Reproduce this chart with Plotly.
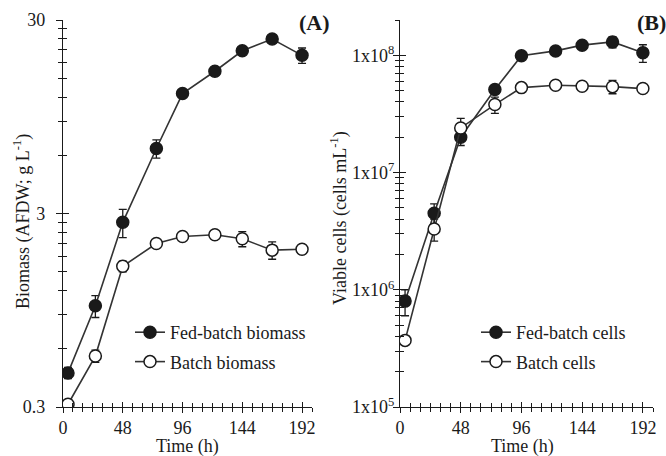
import plotly.graph_objects as go

# Sampling times (h)
time_a = [4, 26, 48, 75, 96, 122, 144, 168, 192]
time_b = [4, 27, 48, 75, 96, 123, 144, 168, 192]

# (A) biomass, AFDW g/L
fed_biomass = [0.45, 1.0, 2.7, 6.5, 12.5, 16.3, 20.8, 23.9, 19.7]
fed_biomass_sd = [0.03, 0.13, 0.45, 0.7, 0.5, 0.8, 0.9, 0.6, 1.8]
batch_biomass = [0.31, 0.55, 1.6, 2.1, 2.28, 2.33, 2.22, 1.94, 1.96]
batch_biomass_sd = [0.01, 0.04, 0.1, 0.05, 0.1, 0.05, 0.2, 0.2, 0.05]

# (B) viable cells, cells/mL
fed_cells = [8.0e5, 4.5e6, 2.0e7, 5.1e7, 9.9e7, 1.09e8, 1.22e8, 1.30e8, 1.05e8]
fed_cells_sd = [2e5, 9e5, 3e6, 4e6, 5e6, 7e6, 7e6, 1.4e7, 1.8e7]
batch_cells = [3.7e5, 3.3e6, 2.4e7, 3.8e7, 5.3e7, 5.55e7, 5.45e7, 5.4e7, 5.2e7]
batch_cells_sd = [3e4, 7e5, 5e6, 6e6, 2e6, 2e6, 4e6, 7e6, 2e6]

x_ticks = [0, 48, 96, 144, 192]
a_ticks = [0.3, 3, 30]
a_ticktext = ["0.3", "3", "30"]
a_minor = [k * 0.3 for k in range(2, 10)] + [k * 3 for k in range(2, 10)]
b_ticks = [1e5, 1e6, 1e7, 1e8]
b_ticktext = ["1x10<sup>5</sup>", "1x10<sup>6</sup>", "1x10<sup>7</sup>", "1x10<sup>8</sup>"]
b_minor = [k * 10 ** n for n in range(5, 8) for k in range(2, 10)] + [2e8]

FONT = "Liberation Serif, Times New Roman, serif"
INK = "#1a1a1a"
LINE = "#333333"

fig = go.Figure()


def add_series(x, y, sd, name, filled, xa, ya, legend):
    fig.add_trace(go.Scatter(
        x=x, y=y, name=name, mode="lines+markers",
        xaxis=xa, yaxis=ya, legend=legend,
        legendgroup=name,
        line=dict(color=LINE, width=1.6),
        marker=dict(size=12, symbol="circle",
                    color=INK if filled else "white",
                    line=dict(color=INK, width=1.5)),
        error_y=dict(type="data", array=sd, visible=True,
                     color=INK, thickness=1.3, width=4),
    ))


# Batch series sit on twin axes whose ticks point inward, so that every
# tick mark crosses the axis line.
add_series(time_a, fed_biomass, fed_biomass_sd, "Fed-batch biomass", True, "x", "y", "legend")
add_series(time_a, batch_biomass, batch_biomass_sd, "Batch biomass", False, "x3", "y3", "legend")
add_series(time_b, fed_cells, fed_cells_sd, "Fed-batch cells", True, "x2", "y2", "legend2")
add_series(time_b, batch_cells, batch_cells_sd, "Batch cells", False, "x4", "y4", "legend2")

W, H = 666, 456
dom_a = [63 / W, 312 / W]
dom_b = [400 / W, 653 / W]
dom_y = [49 / H, 436 / H]

tickfont = dict(family=FONT, size=18, color=INK)


def x_axis(domain, anchor, overlay=None, inside=False):
    ax = dict(
        domain=domain, anchor=anchor, range=[0, 200],
        tickmode="array", tickvals=x_ticks,
        ticks="inside" if inside else "outside", ticklen=5, tickwidth=1.2,
        tickcolor=INK, showline=True, linecolor=INK, linewidth=1.3,
        showgrid=False, zeroline=False,
        showticklabels=not inside, tickfont=tickfont, ticklabelstandoff=-1,
        minor=dict(dtick=8, tick0=0, ticks="inside" if inside else "outside",
                   ticklen=4, tickwidth=1.1, tickcolor=INK, showgrid=False),
    )
    if overlay:
        ax["overlaying"] = overlay
    return ax


def y_axis(domain, anchor, rng, tvals, ttext, minor_vals, standoff,
           overlay=None, inside=False):
    ax = dict(
        domain=domain, anchor=anchor, type="log", range=rng,
        tickmode="array", tickvals=tvals, ticktext=ttext,
        ticks="inside" if inside else "outside", ticklen=6, tickwidth=1.2,
        tickcolor=INK, showline=True, linecolor=INK, linewidth=1.3,
        showgrid=False, zeroline=False,
        showticklabels=not inside, tickfont=tickfont,
        ticklabelstandoff=standoff,
        minor=dict(tickmode="array", tickvals=minor_vals,
                   ticks="inside" if inside else "outside",
                   ticklen=4, tickwidth=1.1, tickcolor=INK, showgrid=False),
    )
    if overlay:
        ax["overlaying"] = overlay
    return ax


rng_a = [-0.5229, 1.4771]
rng_b = [5, 8.301]

legend_style = dict(
    font=dict(family=FONT, size=18, color=INK),
    bgcolor="rgba(0,0,0,0)", borderwidth=0,
    xanchor="left", yanchor="top", tracegroupgap=3,
    itemsizing="trace",
)

fig.update_layout(
    width=W, height=H,
    margin=dict(l=0, r=0, t=0, b=0, autoexpand=False),
    paper_bgcolor="white", plot_bgcolor="white",
    font=dict(family=FONT, size=18, color=INK),
    xaxis=x_axis(dom_a, "y"),
    yaxis=y_axis(dom_y, "x", rng_a, a_ticks, a_ticktext, a_minor, 7),
    xaxis2=x_axis(dom_b, "y2"),
    yaxis2=y_axis(dom_y, "x2", rng_b, b_ticks, b_ticktext, b_minor, -5),
    xaxis3=x_axis(dom_a, "y3", overlay="x", inside=True),
    yaxis3=y_axis(dom_y, "x3", rng_a, a_ticks, a_ticktext, a_minor, 7,
                  overlay="y", inside=True),
    xaxis4=x_axis(dom_b, "y4", overlay="x2", inside=True),
    yaxis4=y_axis(dom_y, "x4", rng_b, b_ticks, b_ticktext, b_minor, -5,
                  overlay="y2", inside=True),
    legend=dict(x=130 / W, y=1 - 314 / H, **legend_style),
    legend2=dict(x=476 / W, y=1 - 314 / H, **legend_style),
    showlegend=True,
)

annotations = [
    dict(text="Time (h)", x=187 / W, y=1 - 446 / H),
    dict(text="Time (h)", x=522 / W, y=1 - 446 / H),
    dict(text="Biomass (AFDW; g L<sup>-1</sup>)", x=22 / W, y=1 - 222 / H, textangle=-90),
    dict(text="Viable cells (cells mL<sup>-1</sup>)", x=339 / W, y=1 - 218 / H, textangle=-90),
    dict(text="<b>(A)</b>", x=314 / W, y=1 - 23 / H, font=dict(family=FONT, size=22, color=INK)),
    dict(text="<b>(B)</b>", x=651 / W, y=1 - 23 / H, font=dict(family=FONT, size=22, color=INK)),
]
for a in annotations:
    a.update(xref="paper", yref="paper", showarrow=False,
             xanchor="center", yanchor="middle")
    a.setdefault("font", dict(family=FONT, size=18, color=INK))
fig.update_layout(annotations=annotations)

fig.write_html("out.html")
